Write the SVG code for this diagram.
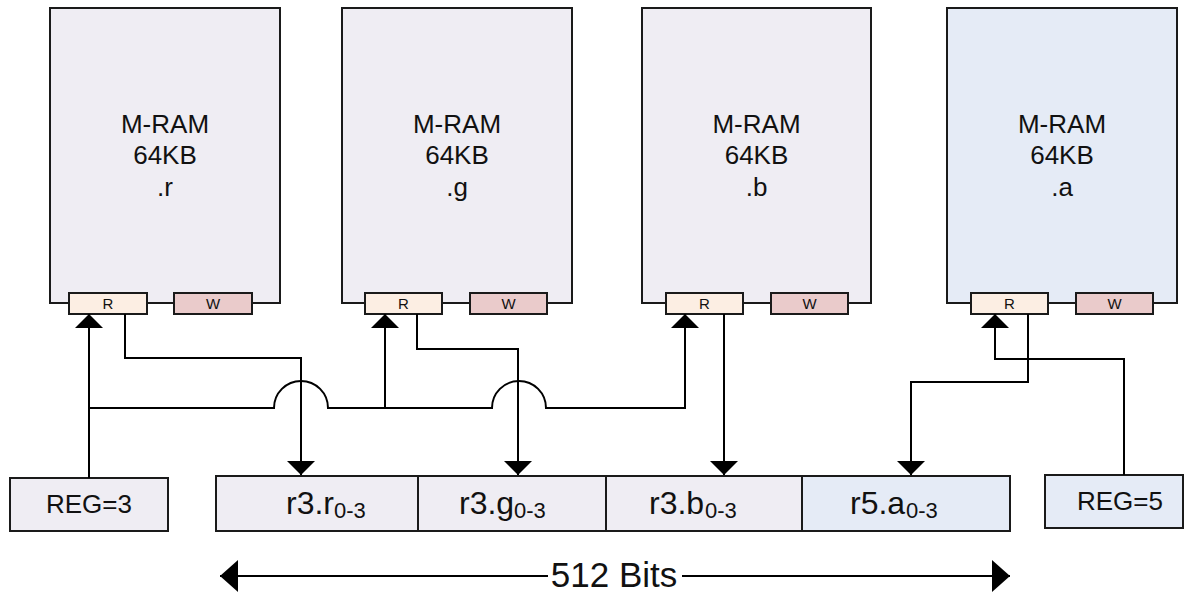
<svg xmlns="http://www.w3.org/2000/svg" width="1200" height="594" viewBox="0 0 1200 594">
<style>
  .box { stroke:#1a1a1a; stroke-width:2; }
  .lav { fill:#EFEDF3; }
  .blu { fill:#E5EBF6; }
  .rport { fill:#FCEEE3; stroke:#1a1a1a; stroke-width:2; }
  .wport { fill:#EACBCB; stroke:#1a1a1a; stroke-width:2; }
  .t { font-family:"Liberation Sans", Arial, sans-serif; fill:#111; text-anchor:middle; }
  .big { font-size:26px; }
  .port { font-size:15px; }
  .wire { fill:none; stroke:#000; stroke-width:2; }
  .reg { font-family:"Liberation Sans", Arial, sans-serif; fill:#111; font-size:32px; }
  .sub { font-family:"Liberation Sans", Arial, sans-serif; fill:#111; font-size:22px; }
</style>
<defs>
  <marker id="ah" markerUnits="userSpaceOnUse" markerWidth="14" markerHeight="28" refX="14" refY="14" orient="auto" viewBox="0 0 14 28">
    <path d="M0,0 L14,14 L0,28 z" fill="#000"/>
  </marker>
  <marker id="big" markerUnits="userSpaceOnUse" markerWidth="18" markerHeight="32" refX="18" refY="16" orient="auto" viewBox="0 0 18 32">
    <path d="M0,0 L18,16 L0,32 z" fill="#000"/>
  </marker>
</defs>

<g id="mram-r">
  <rect class="box lav" x="50" y="8" width="230" height="295"/>
  <text class="t big" x="165" y="133">M-RAM</text>
  <text class="t big" x="165" y="164">64KB</text>
  <text class="t big" x="165" y="196">.r</text>
  <rect class="rport" x="69" y="293" width="78" height="21"/>
  <text class="t port" x="108" y="309">R</text>
  <rect class="wport" x="174" y="293" width="78" height="21"/>
  <text class="t port" x="213" y="309">W</text>
</g>
<g id="mram-g">
  <rect class="box lav" x="342" y="8" width="230" height="295"/>
  <text class="t big" x="457" y="133">M-RAM</text>
  <text class="t big" x="457" y="164">64KB</text>
  <text class="t big" x="457" y="196">.g</text>
  <rect class="rport" x="365" y="293" width="77" height="21"/>
  <text class="t port" x="403.5" y="309">R</text>
  <rect class="wport" x="470" y="293" width="77" height="21"/>
  <text class="t port" x="508.5" y="309">W</text>
</g>
<g id="mram-b">
  <rect class="box lav" x="642" y="8" width="229" height="295"/>
  <text class="t big" x="756.5" y="133">M-RAM</text>
  <text class="t big" x="756.5" y="164">64KB</text>
  <text class="t big" x="756.5" y="196">.b</text>
  <rect class="rport" x="666" y="293" width="77" height="21"/>
  <text class="t port" x="704.5" y="309">R</text>
  <rect class="wport" x="771" y="293" width="77" height="21"/>
  <text class="t port" x="809.5" y="309">W</text>
</g>
<g id="mram-a">
  <rect class="box blu" x="947" y="8" width="230" height="295"/>
  <text class="t big" x="1062" y="133">M-RAM</text>
  <text class="t big" x="1062" y="164">64KB</text>
  <text class="t big" x="1062" y="196">.a</text>
  <rect class="rport" x="971" y="293" width="77" height="21"/>
  <text class="t port" x="1009.5" y="309">R</text>
  <rect class="wport" x="1076" y="293" width="77" height="21"/>
  <text class="t port" x="1114.5" y="309">W</text>
</g>

<g id="reg3">
  <rect class="box lav" x="10" y="478" width="158" height="53"/>
  <text class="t big" x="89" y="513">REG=3</text>
</g>
<g id="reg5">
  <rect class="box blu" x="1045" y="475" width="138" height="53"/>
  <text class="t big" x="1120" y="510">REG=5</text>
</g>

<g id="register">
  <rect class="box lav" x="216" y="476" width="202" height="55"/>
  <rect class="box lav" x="418" y="476" width="188" height="55"/>
  <rect class="box lav" x="606" y="476" width="196" height="55"/>
  <rect class="box blu" x="802" y="476" width="208" height="55"/>
  <text class="reg" x="286" y="514">r3.r</text>
  <text class="sub" x="334" y="518">0-3</text>
  <text class="reg" x="459" y="514">r3.g</text>
  <text class="sub" x="514" y="518">0-3</text>
  <text class="reg" x="649" y="514">r3.b</text>
  <text class="sub" x="705" y="518">0-3</text>
  <text class="reg" x="850" y="514">r5.a</text>
  <text class="sub" x="906" y="518">0-3</text>
</g>

<g id="connectors">
  <path class="wire" d="M89,478 V314" marker-end="url(#ah)"/>
  <path class="wire" d="M89,408 H274 A27,27 0 0 1 328,408 H492 A27,27 0 0 1 546,408 H685 V314" marker-end="url(#ah)"/>
  <path class="wire" d="M385,408 V314" marker-end="url(#ah)"/>
  <path class="wire" d="M125,314 V358 H301 V475" marker-end="url(#ah)"/>
  <path class="wire" d="M417,314 V349 H518 V475" marker-end="url(#ah)"/>
  <path class="wire" d="M724,314 V475" marker-end="url(#ah)"/>
  <path class="wire" d="M1028,314 V382 H911 V475" marker-end="url(#ah)"/>
  <path class="wire" d="M1124,475 V359 H995 V314" marker-end="url(#ah)"/>
  <path class="wire" d="M548,576 H220" marker-end="url(#big)"/>
  <path class="wire" d="M682,576 H1010" marker-end="url(#big)"/>
</g>
<g id="width-label">
  <text class="t" x="614" y="587" font-size="35">512 Bits</text>
</g>
</svg>
